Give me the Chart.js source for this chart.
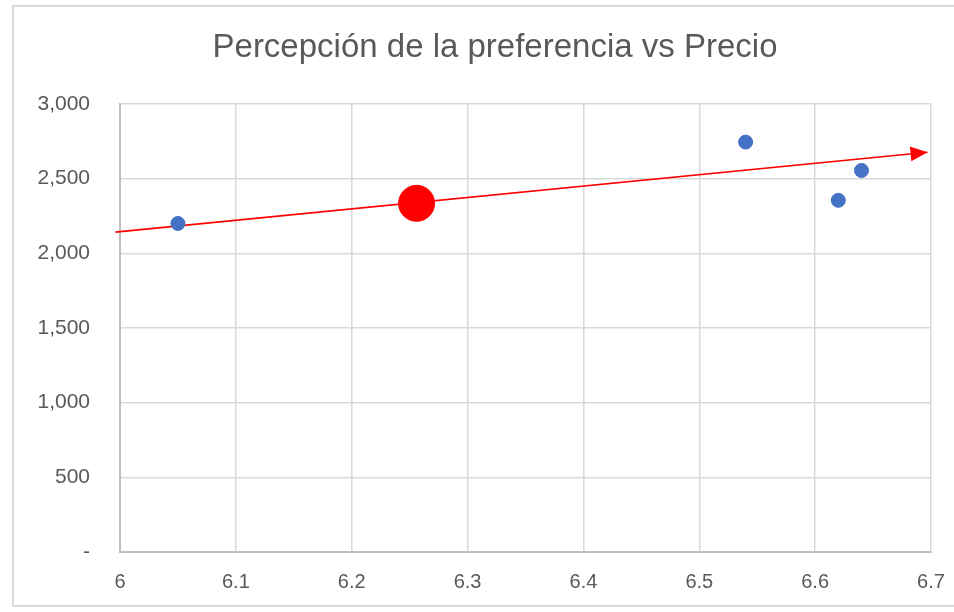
<!DOCTYPE html>
<html>
<head>
<meta charset="utf-8">
<script src="https://cdn.jsdelivr.net/npm/chart.js@4/dist/chart.umd.min.js"></script>
<style>
  html, body { margin: 0; padding: 0; background: #fff; }
  #wrap { position: relative; width: 954px; height: 612px; overflow: hidden; }
  #frame { position: absolute; left: 12px; top: 5px; width: 990px; height: 602px;
           border: 2px solid #d9d9d9; box-sizing: border-box; }
  canvas { position: absolute; left: 0; top: 0; }
</style>
</head>
<body>
<div id="wrap">
  <div id="frame"></div>
  <canvas id="c" width="990" height="612"></canvas>
</div>
<script>
// Precio (x) y preferencia percibida (y) por producto
const precio = [6.05, 6.54, 6.62, 6.64];
const preferencia = [2200, 2745, 2355, 2555];

// Punto destacado sobre la tendencia
const destacadoPrecio = [6.256];
const destacadoPreferencia = [2335];

// Línea de tendencia (flecha)
const tendenciaPrecio = [5.996, 6.697];
const tendenciaPreferencia = [2142, 2677];

// Ejes
const xMin = 6, xMax = 6.7, xPaso = 0.1;
const yMin = 0, yMax = 3000, yPaso = 500;

const TITULO = 'Percepción de la preferencia vs Precio';

const toXY = (xs, ys) => xs.map((x, i) => ({ x, y: ys[i] }));

const FONT = "'Liberation Sans', Arial, sans-serif";
const GRIS_TEXTO = '#595959';

// Título centrado sobre todo el lienzo
const tituloCentrado = {
  id: 'tituloCentrado',
  afterDraw(chart) {
    const ctx = chart.ctx;
    ctx.save();
    ctx.font = `33px ${FONT}`;
    ctx.fillStyle = GRIS_TEXTO;
    ctx.textAlign = 'center';
    ctx.textBaseline = 'middle';
    ctx.fillText(TITULO, chart.width / 2, 48);
    ctx.restore();
  }
};

// Punta de flecha al final de la línea de tendencia
const puntaFlecha = {
  id: 'puntaFlecha',
  afterDatasetsDraw(chart) {
    const meta = chart.getDatasetMeta(0);
    if (!meta || meta.data.length < 2) return;
    const a = meta.data[meta.data.length - 2];
    const b = meta.data[meta.data.length - 1];
    const ang = Math.atan2(b.y - a.y, b.x - a.x);
    const len = 17, half = 7.5;
    const ctx = chart.ctx;
    ctx.save();
    ctx.translate(b.x, b.y);
    ctx.rotate(ang);
    ctx.beginPath();
    ctx.moveTo(0, 0);
    ctx.lineTo(-len, -half);
    ctx.lineTo(-len, half);
    ctx.closePath();
    ctx.fillStyle = '#ff0000';
    ctx.fill();
    ctx.restore();
  }
};

new Chart(document.getElementById('c'), {
  type: 'scatter',
  data: {
    datasets: [
      {
        label: 'Tendencia',
        type: 'line',
        data: toXY(tendenciaPrecio, tendenciaPreferencia),
        borderColor: '#ff0000',
        borderWidth: 1.6,
        pointRadius: 0,
        fill: false,
        clip: false,
        order: 3
      },
      {
        label: 'Preferencia',
        data: toXY(precio, preferencia),
        backgroundColor: '#4472c4',
        borderColor: '#4472c4',
        pointRadius: 7,
        pointHoverRadius: 7,
        order: 2
      },
      {
        label: 'Destacado',
        data: toXY(destacadoPrecio, destacadoPreferencia),
        backgroundColor: '#ff0000',
        borderColor: '#ff0000',
        pointRadius: 18,
        pointHoverRadius: 18,
        order: 1
      }
    ]
  },
  options: {
    responsive: false,
    animation: false,
    layout: { padding: { left: 0, right: 59, top: 104, bottom: 0 } },
    plugins: {
      legend: { display: false },
      tooltip: { enabled: false },
      title: { display: false }
    },
    scales: {
      x: {
        type: 'linear',
        min: xMin, max: xMax,
        afterFit(s) { s.height = 60; },
        ticks: {
          stepSize: xPaso,
          color: GRIS_TEXTO,
          font: { family: FONT, size: 20 },
          padding: 18,
          callback: v => String(Number(v.toFixed(1)))
        },
        grid: { color: '#d9d9d9', lineWidth: 1.5, drawTicks: false },
        border: { color: '#bfbfbf', width: 2 }
      },
      y: {
        type: 'linear',
        min: yMin, max: yMax,
        afterFit(s) { s.width = 120; },
        ticks: {
          stepSize: yPaso,
          color: GRIS_TEXTO,
          font: { family: FONT, size: 21 },
          padding: 30,
          callback: v => v === 0 ? '-' : v.toLocaleString('en-US')
        },
        grid: { color: '#d9d9d9', lineWidth: 1.5, drawTicks: false },
        border: { color: '#bfbfbf', width: 2 }
      }
    }
  },
  plugins: [puntaFlecha, tituloCentrado]
});
</script>
</body>
</html>
